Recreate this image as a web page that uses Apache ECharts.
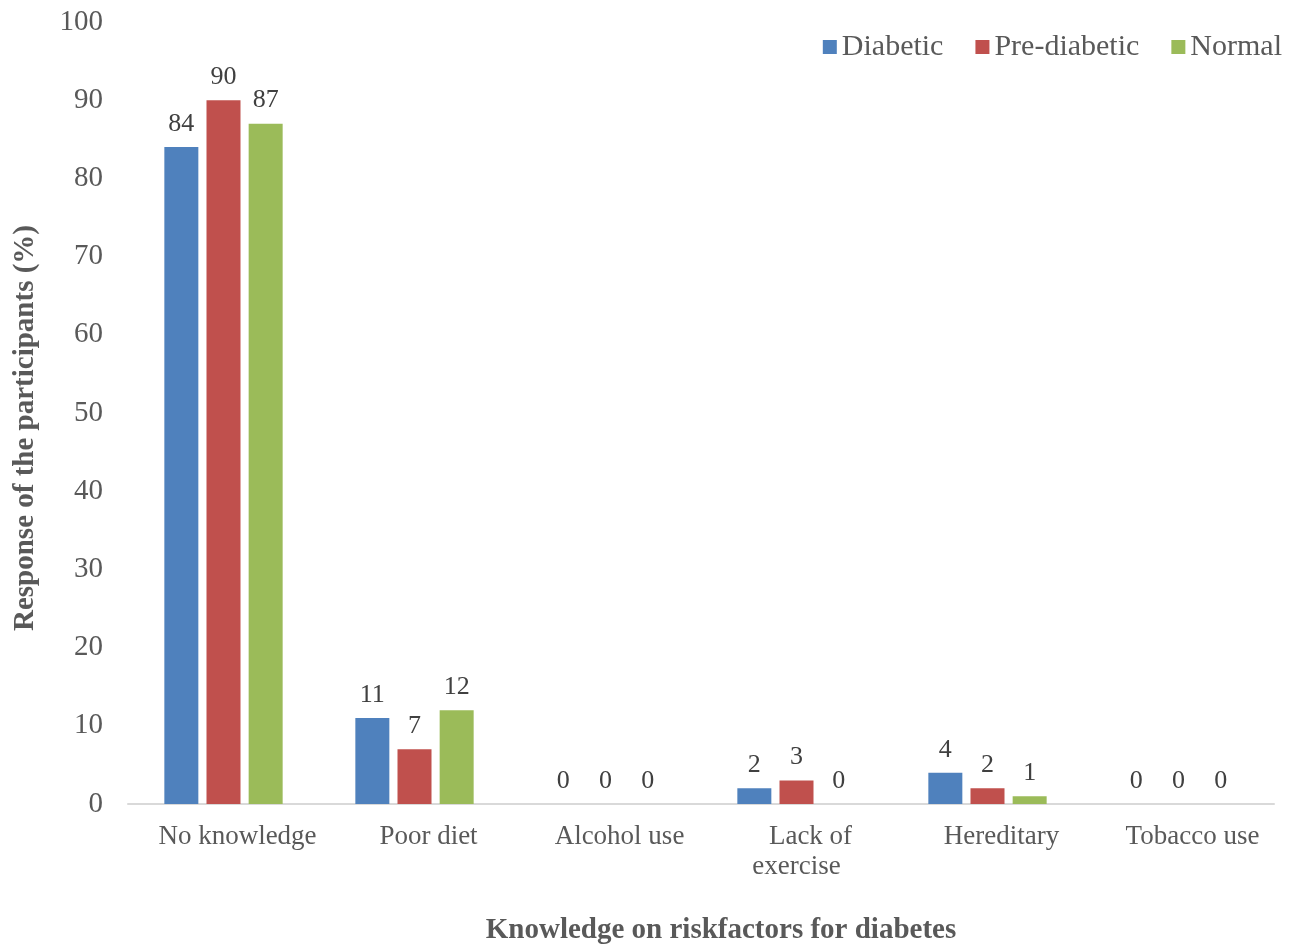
<!DOCTYPE html>
<html>
<head>
<meta charset="utf-8">
<script src="https://cdn.jsdelivr.net/npm/echarts@6/dist/echarts.min.js"></script>
<style>
html, body { margin: 0; padding: 0; background: #fff; }
#chart { width: 1298px; height: 950px; }
</style>
</head>
<body>
<div id="chart"></div>
<script>
var categories = ['No knowledge', 'Poor diet', 'Alcohol use', 'Lack of\nexercise', 'Hereditary', 'Tobacco use'];
var diabetic = [84, 11, 0, 2, 4, 0];
var preDiabetic = [90, 7, 0, 3, 2, 0];
var normal = [87, 12, 0, 0, 1, 0];
var yTicks = [0, 100, 10];

var chart = echarts.init(document.getElementById('chart'));
var font = '"Liberation Serif", "Times New Roman", serif';
var textColor = '#595959';

function barSeries(name, data, color) {
	return {
		name: name,
		type: 'bar',
		data: data,
		barWidth: 34,
		barGap: '24%',
		itemStyle: { color: color },
		label: {
			show: true,
			position: 'top',
			distance: 10,
			color: '#404040',
			fontFamily: font,
			fontSize: 26
		}
	};
}

var catText = { color: textColor, fontFamily: font, fontSize: 27, lineHeight: 30 };

var option = {
	backgroundColor: '#fff',
	textStyle: { fontFamily: font },
	legend: {
		right: 11,
		top: 27,
		itemWidth: 14,
		itemHeight: 14,
		itemGap: 32,
		icon: 'rect',
		textStyle: { color: textColor, fontFamily: font, fontSize: 30 }
	},
	grid: { left: 128, right: 24, top: 22, bottom: 143 },
	xAxis: {
		type: 'category',
		data: categories,
		axisLine: { lineStyle: { color: '#d9d9d9', width: 2 } },
		axisTick: { show: false },
		axisLabel: {
			interval: 0,
			color: textColor,
			fontFamily: font,
			fontSize: 27,
			margin: 18,
			lineHeight: 30,
			padding: [0, 0, 0, 28],
			formatter: function (v) {
				var lines = v.split('\n');
				if (lines.length < 2) return v;
				return '{a|' + lines[0] + '}\n{b|' + lines[1] + '}';
			},
			rich: {
				a: catText,
				b: { color: textColor, fontFamily: font, fontSize: 27, lineHeight: 30, padding: [0, 28, 0, 0] }
			}
		},
		name: 'Knowledge on riskfactors for diabetes',
		nameLocation: 'middle',
		nameGap: 112,
		nameTextStyle: {
			color: textColor,
			fontFamily: font,
			fontSize: 29,
			fontWeight: 'bold',
			padding: [0, 0, 0, 40]
		}
	},
	yAxis: {
		type: 'value',
		min: yTicks[0],
		max: yTicks[1],
		interval: yTicks[2],
		splitLine: { show: false },
		axisLine: { show: false },
		axisTick: { show: false },
		axisLabel: {
			color: textColor,
			fontFamily: font,
			fontSize: 29,
			margin: 25
		},
		name: 'Response of the participants (%)',
		nameLocation: 'middle',
		nameGap: 88,
		nameTextStyle: {
			color: textColor,
			fontFamily: font,
			fontSize: 29,
			fontWeight: 'bold',
			padding: [0, 30, 0, 0]
		}
	},
	series: [
		barSeries('Diabetic', diabetic, '#4f81bd'),
		barSeries('Pre-diabetic', preDiabetic, '#c0504d'),
		barSeries('Normal', normal, '#9bbb59')
	]
};

chart.setOption(option);
</script>
</body>
</html>
